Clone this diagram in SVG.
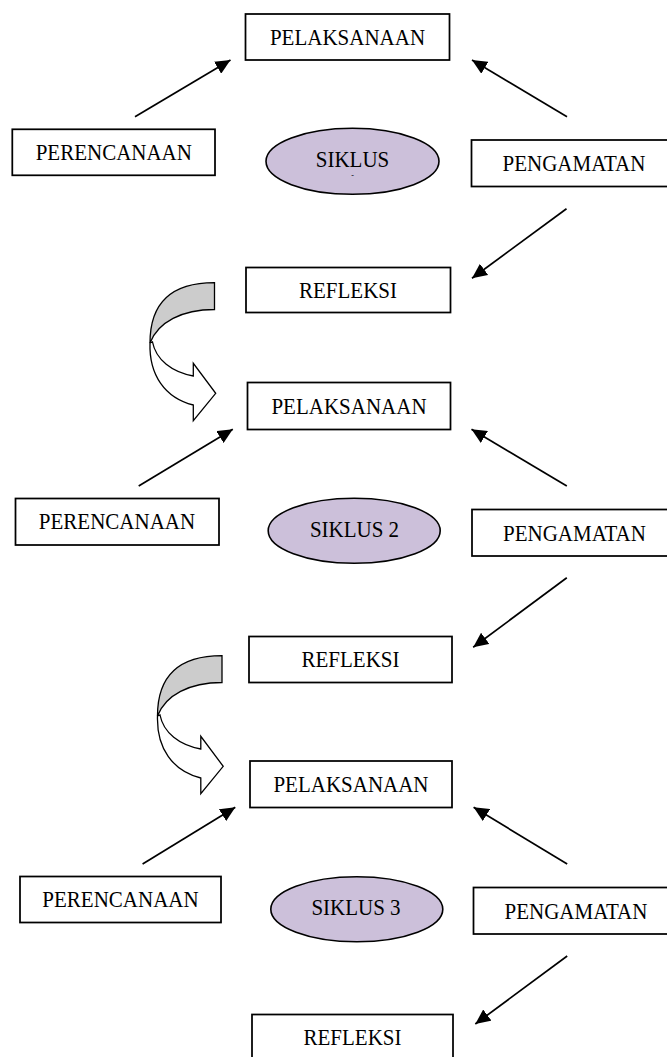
<svg xmlns="http://www.w3.org/2000/svg" width="667" height="1057" viewBox="0 0 667 1057">
<style>
.box{fill:#fff;stroke:#000;stroke-width:1.75}
.ell{fill:#CCC0DA;stroke:#000;stroke-width:1.6}
.t{font-family:"Liberation Serif","Times New Roman",serif;font-size:21px;fill:#000;text-anchor:middle;transform-box:fill-box;transform-origin:50% 50%;transform:scaleY(1.08)}
.con{stroke:#000;stroke-width:1.7;fill:none;marker-end:url(#ah)}
.gray{fill:#CCCCCC;stroke:#000;stroke-width:1.3}
.white{fill:#fff;stroke:#000;stroke-width:1.3}
</style>
<defs>
<marker id="ah" viewBox="0 0 15 14" refX="15" refY="7" markerWidth="15" markerHeight="14" markerUnits="userSpaceOnUse" orient="auto">
<path d="M0,0 L15,7 L0,14 Z" fill="#000"/>
</marker>
<g id="curvedArrow">
<path class="white" d="M150,343 C149,375 165,398 193.3,405 L193.3,420.7 L215.7,393.3 L193.3,363.3 L193.3,376 C172,372 156,360 152.5,342 Z"/>
<path class="gray" d="M214.5,282.7 C175,282.7 150,300 150,343 C158,322 182,309.5 214.5,309.5 Z"/>
</g>
</defs>
<rect width="667" height="1057" fill="#fff"/>

<g id="connectors">
<line class="con" x1="135" y1="116.7" x2="230.5" y2="60"/>
<line class="con" x1="567" y1="116.7" x2="472" y2="60"/>
<line class="con" x1="566.5" y1="208.7" x2="472" y2="278.3"/>
<line class="con" x1="138.7" y1="486" x2="232.8" y2="429.3"/>
<line class="con" x1="566.8" y1="486" x2="471.5" y2="429.3"/>
<line class="con" x1="566.8" y1="577.7" x2="473.2" y2="647.3"/>
<line class="con" x1="142.6" y1="864" x2="235.3" y2="807.3"/>
<line class="con" x1="567.2" y1="864" x2="473.6" y2="807.3"/>
<line class="con" x1="567.2" y1="956" x2="475.3" y2="1024"/>
<use id="curved1" href="#curvedArrow"/>
<use id="curved2" href="#curvedArrow" transform="translate(7.5,373)"/>
</g>

<g id="pelaksanaan1"><rect class="box" x="245.5" y="14" width="204" height="46"/><text class="t" x="347.5" y="44">PELAKSANAAN</text></g>
<g id="perencanaan1"><rect class="box" x="12.3" y="129.3" width="202.7" height="46"/><text class="t" x="113.8" y="159.5">PERENCANAAN</text></g>
<g id="siklus1"><ellipse class="ell" cx="352.5" cy="161.3" rx="86.5" ry="33"/><text class="t" x="352.5" y="166">SIKLUS</text><text class="t" x="352.5" y="178" style="font-size:8px">-</text></g>
<g id="pengamatan1"><rect class="box" x="471.5" y="140" width="205" height="46.5"/><text class="t" x="574" y="170.5">PENGAMATAN</text></g>
<g id="refleksi1"><rect class="box" x="246" y="267.5" width="204.5" height="45"/><text class="t" x="348" y="297">REFLEKSI</text></g>

<g id="pelaksanaan2"><rect class="box" x="247.5" y="382.5" width="203" height="47"/><text class="t" x="349" y="413">PELAKSANAAN</text></g>
<g id="perencanaan2"><rect class="box" x="15.5" y="498.5" width="203.5" height="46.5"/><text class="t" x="117" y="528.5">PERENCANAAN</text></g>
<g id="siklus2"><ellipse class="ell" cx="354.2" cy="530.8" rx="86" ry="32.5"/><text class="t" x="354.5" y="536">SIKLUS 2</text></g>
<g id="pengamatan2"><rect class="box" x="472" y="509.5" width="205" height="46.5"/><text class="t" x="574.5" y="540">PENGAMATAN</text></g>
<g id="refleksi2"><rect class="box" x="249" y="636.5" width="203" height="46"/><text class="t" x="350.5" y="666.5">REFLEKSI</text></g>

<g id="pelaksanaan3"><rect class="box" x="250" y="761" width="202" height="46.5"/><text class="t" x="351" y="791">PELAKSANAAN</text></g>
<g id="perencanaan3"><rect class="box" x="20" y="876.5" width="201" height="46"/><text class="t" x="120.5" y="906.5">PERENCANAAN</text></g>
<g id="siklus3"><ellipse class="ell" cx="356.8" cy="909.2" rx="86" ry="32.5"/><text class="t" x="356" y="914.5">SIKLUS 3</text></g>
<g id="pengamatan3"><rect class="box" x="473.5" y="887.5" width="205" height="46.5"/><text class="t" x="576" y="918">PENGAMATAN</text></g>
<g id="refleksi3"><rect class="box" x="252" y="1014.5" width="201" height="50"/><text class="t" x="352.5" y="1044">REFLEKSI</text></g>
</svg>
